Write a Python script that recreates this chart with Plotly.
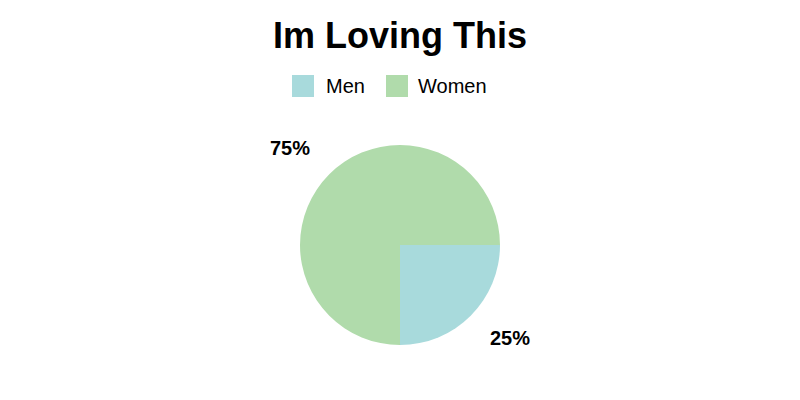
import math
import plotly.graph_objects as go

labels = ["Men", "Women"]
values = [25, 75]
colors = ["#a8dadc", "#b0dbab"]
title_text = "Im Loving This"

W, H = 800, 400
OFF = 8  # page body margin offset in screenshot
m_l, m_r, m_t, m_b = 0, 16, 137, 63
plot_w = W - m_l - m_r
plot_h = H - m_t - m_b
radius_px = plot_h / 2
FONT = "Liberation Sans, Arial, Helvetica, sans-serif"


def px_to_paper(x_img, y_img):
    """Convert screenshot pixel position to paper coordinates."""
    xp = (x_img - OFF - m_l) / plot_w
    yp = (H - m_b - (y_img - OFF)) / plot_h
    return xp, yp


fig = go.Figure(go.Pie(
    labels=labels, values=values, sort=False, direction="clockwise",
    rotation=90, marker=dict(colors=colors, line=dict(width=0)),
    textinfo="none", hoverinfo="label+percent", showlegend=False,
))

# percentage labels outside the slices, placed from the slice mid-angles
total = sum(values)
annotations = []
acc = 0
for v in values:
    mid = 0 - 360 * (acc + v / 2) / total  # start at 3 o'clock, clockwise
    acc += v
    rad = math.radians(mid)
    dx = 1.55 * radius_px * math.cos(rad)
    dy = 1.34 * radius_px * math.sin(rad) + 2
    annotations.append(dict(
        x=0.5 + dx / plot_w, y=0.5 + dy / plot_h, xref="paper", yref="paper",
        text=f"<b>{round(100 * v / total)}%</b>", showarrow=False,
        font=dict(size=20, color="black", family=FONT),
        xanchor="center", yanchor="middle",
    ))

# legend (larger square swatches than Plotly's built-in pie legend)
legend_sq_x = [292, 386]
legend_txt_x = [324, 416]
legend_y = 86
sq = 22
shapes = []
for lab, col, sx, tx in zip(labels, colors, legend_sq_x, legend_txt_x):
    x0, y0 = px_to_paper(sx, legend_y + sq / 2)
    x1, y1 = px_to_paper(sx + sq, legend_y - sq / 2)
    shapes.append(dict(type="rect", xref="paper", yref="paper", x0=x0, x1=x1,
                       y0=y0, y1=y1, fillcolor=col, line=dict(width=0)))
    ax, ay = px_to_paper(tx, legend_y)
    annotations.append(dict(x=ax, y=ay, xref="paper", yref="paper", text=lab,
                            showarrow=False, xanchor="left", yanchor="middle",
                            font=dict(size=20, color="black", family=FONT)))

fig.update_layout(
    width=W, height=H,
    margin=dict(t=m_t, b=m_b, l=m_l, r=m_r),
    paper_bgcolor="white", plot_bgcolor="white",
    title=dict(text=f"<b>{title_text}</b>", x=0.5 - (m_r - m_l) / 2 / W, xanchor="center",
               y=1 - (35 - OFF) / H, yanchor="middle",
               font=dict(size=36, color="black", family=FONT)),
    showlegend=False,
    annotations=annotations,
    shapes=shapes,
    font=dict(family=FONT),
)
fig.write_html("out.html")
